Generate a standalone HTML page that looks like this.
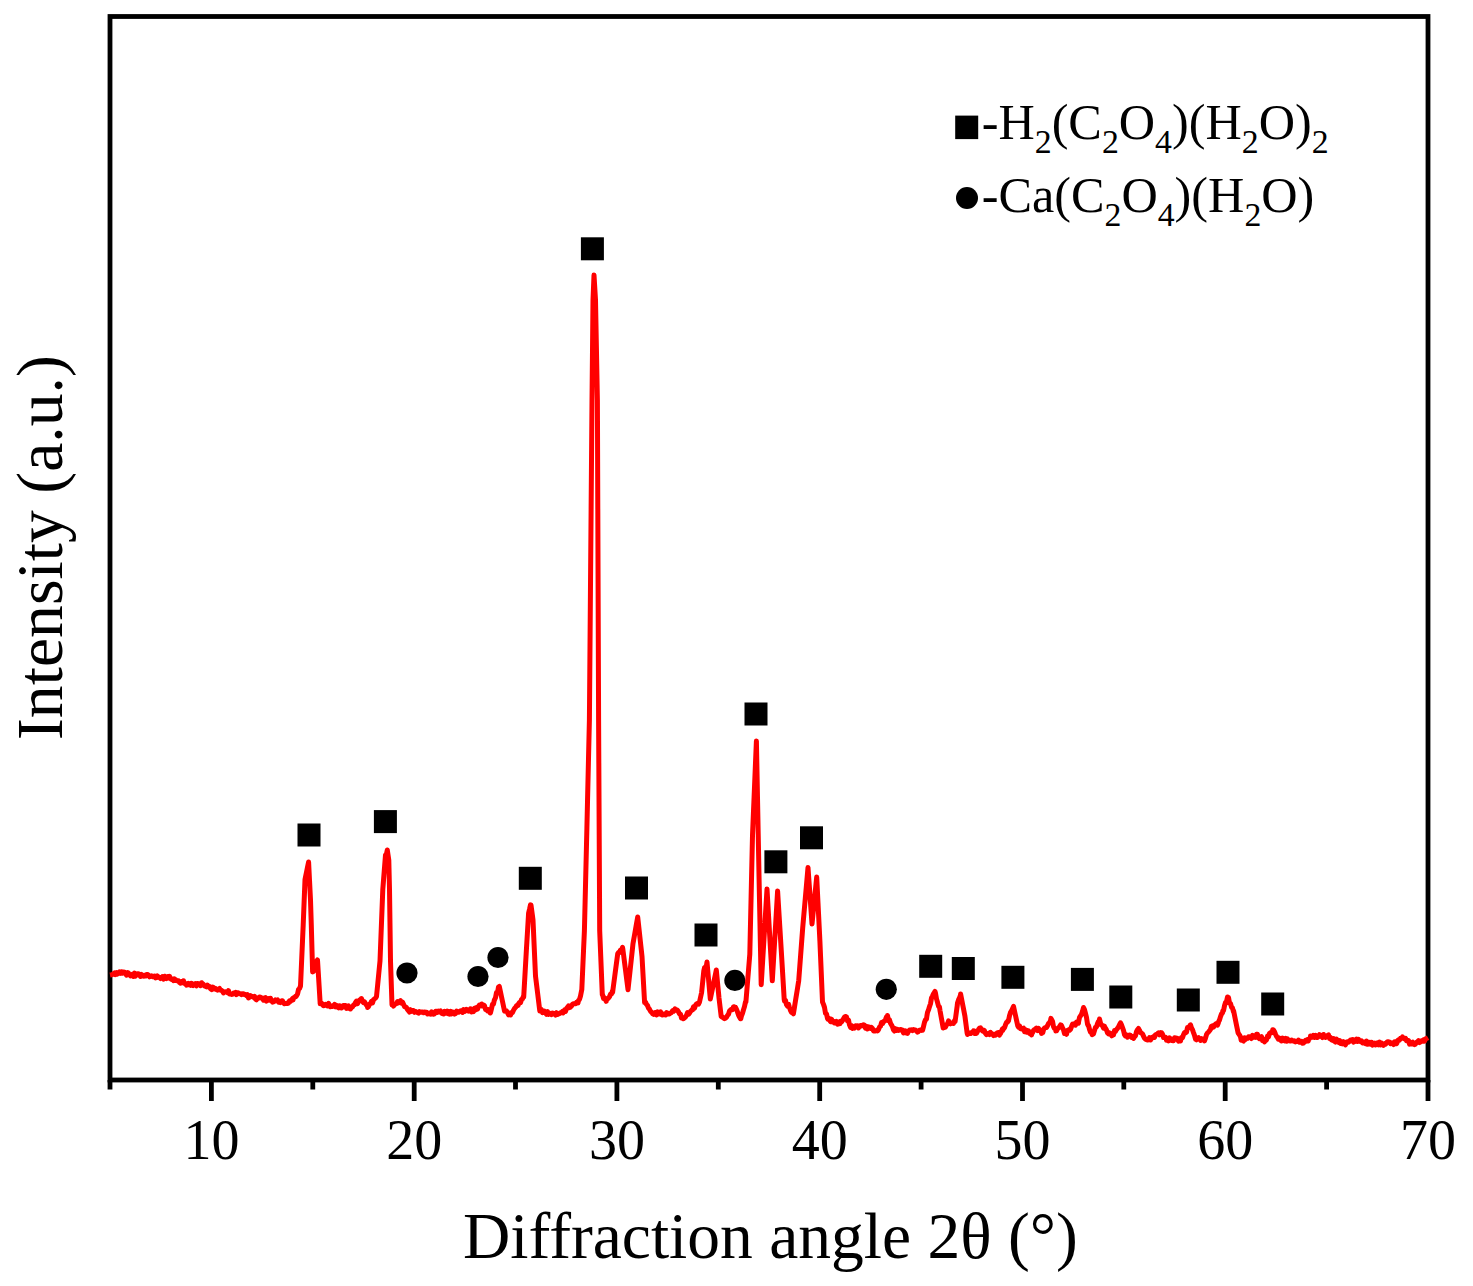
<!DOCTYPE html>
<html><head><meta charset="utf-8"><style>
html,body{margin:0;padding:0;background:#fff;}
svg{display:block;}
text{font-family:"Liberation Serif",serif;fill:#000;}
</style></head><body>
<svg width="1473" height="1286" viewBox="0 0 1473 1286">
<rect width="1473" height="1286" fill="#fff"/>
<g fill="#000">
<rect x="297.5" y="823.5" width="23" height="23"/>
<rect x="373.9" y="810.1" width="23" height="23"/>
<rect x="518.8" y="866.8" width="23" height="23"/>
<rect x="580.9" y="237.3" width="23" height="23"/>
<rect x="625.0" y="876.5" width="23" height="23"/>
<rect x="694.5" y="923.5" width="23" height="23"/>
<rect x="744.5" y="702.5" width="23" height="23"/>
<rect x="764.4" y="850.3" width="23" height="23"/>
<rect x="800.0" y="826.3" width="23" height="23"/>
<rect x="919.2" y="954.8" width="23" height="23"/>
<rect x="951.8" y="957.0" width="23" height="23"/>
<rect x="1001.4" y="965.8" width="23" height="23"/>
<rect x="1070.9" y="967.9" width="23" height="23"/>
<rect x="1109.3" y="985.5" width="23" height="23"/>
<rect x="1176.8" y="988.5" width="23" height="23"/>
<rect x="1216.5" y="960.8" width="23" height="23"/>
<rect x="1261.2" y="992.5" width="23" height="23"/>
<circle cx="407.0" cy="973.0" r="10.6"/>
<circle cx="478.0" cy="976.5" r="10.6"/>
<circle cx="498.0" cy="957.5" r="10.6"/>
<circle cx="734.9" cy="980.4" r="10.6"/>
<circle cx="886.3" cy="989.3" r="10.6"/>
</g>
<g stroke="#000" stroke-width="4.8" fill="none">
<rect x="110" y="16.5" width="1318" height="1063.5"/>
<line x1="110.0" y1="1080" x2="110.0" y2="1089.5"/>
<line x1="211.4" y1="1080" x2="211.4" y2="1101"/>
<line x1="312.8" y1="1080" x2="312.8" y2="1089.5"/>
<line x1="414.2" y1="1080" x2="414.2" y2="1101"/>
<line x1="515.5" y1="1080" x2="515.5" y2="1089.5"/>
<line x1="616.9" y1="1080" x2="616.9" y2="1101"/>
<line x1="718.3" y1="1080" x2="718.3" y2="1089.5"/>
<line x1="819.7" y1="1080" x2="819.7" y2="1101"/>
<line x1="921.1" y1="1080" x2="921.1" y2="1089.5"/>
<line x1="1022.5" y1="1080" x2="1022.5" y2="1101"/>
<line x1="1123.8" y1="1080" x2="1123.8" y2="1089.5"/>
<line x1="1225.2" y1="1080" x2="1225.2" y2="1101"/>
<line x1="1326.6" y1="1080" x2="1326.6" y2="1089.5"/>
<line x1="1428.0" y1="1080" x2="1428.0" y2="1101"/>
</g>
<path d="M110.0,975.0 L110.5,974.9 L111.5,974.8 L112.5,974.6 L113.5,973.8 L114.5,973.0 L115.5,974.7 L116.5,972.5 L117.5,974.0 L118.5,973.2 L119.5,971.9 L120.5,973.4 L121.0,973.3 L121.5,971.7 L122.5,973.2 L123.5,972.0 L124.5,972.2 L125.5,973.5 L126.5,975.1 L127.5,972.6 L128.5,973.1 L129.5,974.7 L130.5,975.9 L131.5,974.7 L132.5,974.2 L133.5,976.4 L134.5,973.1 L135.5,976.2 L136.5,974.2 L137.5,973.8 L138.5,973.8 L139.5,974.6 L140.5,976.5 L141.5,974.4 L142.5,975.9 L143.5,976.2 L144.5,975.4 L145.5,976.1 L146.0,976.0 L146.5,974.5 L147.5,974.5 L148.5,975.1 L149.5,976.9 L150.5,976.1 L151.5,975.8 L152.5,976.8 L153.5,976.5 L154.5,976.0 L155.5,977.9 L156.5,977.6 L157.5,976.0 L158.5,977.3 L159.5,977.2 L160.5,978.6 L161.5,978.1 L162.5,976.6 L163.5,979.2 L164.5,976.2 L165.5,977.3 L166.5,978.6 L167.5,976.5 L168.5,977.8 L169.5,976.3 L170.0,978.0 L170.5,978.8 L171.5,979.5 L172.5,979.1 L173.5,980.5 L174.5,978.8 L175.5,980.5 L176.0,980.0 L176.5,980.5 L177.5,980.8 L178.5,980.7 L179.5,982.4 L180.5,983.1 L181.5,981.7 L182.5,982.7 L183.5,980.8 L184.5,983.5 L185.5,983.6 L186.5,985.2 L187.5,984.9 L188.5,983.3 L189.5,984.0 L190.5,985.3 L191.5,983.3 L192.5,985.2 L193.0,985.5 L193.5,984.2 L194.5,983.9 L195.5,983.5 L196.5,985.9 L197.5,983.5 L198.5,983.8 L199.5,984.1 L200.5,985.7 L201.5,982.7 L202.5,983.9 L203.0,984.0 L203.5,984.4 L204.5,986.1 L205.5,986.3 L206.5,986.9 L207.5,985.2 L208.5,986.2 L209.5,986.4 L210.5,988.8 L211.5,989.5 L212.5,987.1 L213.5,987.6 L214.0,989.0 L214.5,988.2 L215.5,988.4 L216.5,989.5 L217.5,990.1 L218.5,989.2 L219.5,988.5 L220.5,990.2 L221.5,990.3 L222.5,991.2 L223.5,992.8 L224.5,992.1 L225.5,991.7 L226.5,992.3 L227.5,992.7 L228.5,990.7 L229.5,994.0 L230.5,993.8 L231.5,994.4 L232.5,994.3 L233.5,993.1 L234.0,993.6 L234.5,993.3 L235.5,992.5 L236.5,994.6 L237.5,992.7 L238.5,993.0 L239.5,993.7 L240.5,993.7 L241.5,994.6 L242.5,993.7 L243.5,993.7 L244.5,994.5 L245.5,994.5 L246.5,995.7 L247.5,994.7 L248.5,997.9 L249.5,997.2 L250.5,995.7 L251.5,996.3 L252.5,996.8 L253.5,997.1 L254.0,997.7 L254.5,996.4 L255.5,999.2 L256.5,999.8 L257.5,998.1 L258.5,998.3 L259.5,997.0 L260.5,997.2 L261.5,998.2 L262.5,998.1 L263.5,1000.2 L264.5,998.0 L265.5,997.6 L266.5,1001.1 L267.5,999.7 L268.0,999.7 L268.5,998.5 L269.5,1000.1 L270.5,998.3 L271.5,1000.3 L272.5,1002.1 L273.5,1001.8 L274.5,1001.3 L275.5,999.9 L276.5,1000.4 L277.5,999.8 L278.5,1002.1 L279.5,1001.4 L280.5,1002.5 L281.5,1001.0 L282.5,1000.7 L283.5,1003.0 L284.5,1003.8 L285.5,1003.4 L286.5,1003.4 L287.5,1003.6 L288.0,1002.5 L288.5,1003.1 L289.5,1000.8 L290.5,1001.3 L291.5,1000.2 L292.5,998.6 L293.0,1000.0 L293.5,997.7 L294.5,997.5 L295.5,996.3 L296.0,996.6 L296.5,995.9 L297.5,994.1 L298.5,989.6 L299.5,988.6 L300.5,986.0 L300.6,984.0 L301.5,963.6 L302.5,940.9 L303.2,925.0 L303.5,917.4 L304.5,892.1 L305.0,879.5 L305.5,877.1 L306.5,872.2 L307.5,867.3 L308.5,862.5 L308.6,862.0 L309.5,880.0 L310.5,900.0 L311.3,925.0 L311.5,932.2 L312.5,968.4 L312.6,972.0 L313.5,971.4 L314.5,966.9 L315.5,963.9 L316.5,961.5 L317.5,960.0 L318.5,976.2 L319.5,992.4 L320.2,1003.8 L320.5,1002.7 L321.5,1002.9 L322.5,1004.6 L323.5,1005.7 L324.5,1005.6 L325.5,1004.4 L326.5,1005.2 L327.5,1005.9 L328.5,1003.4 L329.5,1005.6 L330.5,1006.7 L331.5,1006.3 L332.5,1006.4 L333.5,1005.5 L333.6,1005.6 L334.5,1004.5 L335.5,1006.8 L336.5,1005.3 L337.5,1007.1 L338.5,1007.8 L339.5,1005.8 L340.5,1005.9 L341.5,1008.0 L342.5,1007.3 L343.5,1005.4 L344.5,1005.4 L345.5,1005.5 L346.5,1008.4 L347.5,1008.1 L348.5,1005.8 L349.5,1008.4 L350.5,1009.0 L351.5,1007.4 L352.5,1007.0 L353.5,1005.0 L354.5,1004.8 L355.5,1002.4 L356.5,1001.1 L357.5,1003.6 L358.5,1001.5 L359.5,1000.1 L360.5,1000.7 L361.3,998.4 L361.5,998.4 L362.5,1001.5 L363.5,1002.7 L364.5,1001.9 L365.5,1003.5 L366.5,1005.1 L367.5,1006.3 L367.6,1007.4 L368.5,1006.6 L369.5,1004.2 L370.5,1003.6 L371.5,1001.3 L372.5,1002.9 L373.5,999.7 L374.5,998.9 L375.5,998.1 L376.5,996.6 L377.5,986.4 L378.5,976.3 L379.5,966.1 L380.0,961.0 L380.5,948.2 L381.5,922.6 L382.5,897.1 L382.8,889.4 L383.5,880.5 L384.5,867.7 L385.5,855.0 L386.5,853.7 L387.3,850.0 L387.5,851.3 L388.5,858.0 L388.8,860.0 L389.5,889.0 L390.5,961.0 L391.5,990.3 L392.0,1005.0 L392.5,1004.6 L393.5,1006.0 L394.5,1004.2 L395.5,1004.0 L396.5,1003.7 L397.5,1001.5 L398.5,1002.8 L399.5,1001.5 L400.5,1000.6 L401.5,1003.1 L401.6,1002.0 L402.5,1002.0 L403.5,1004.3 L404.5,1006.5 L405.5,1007.1 L406.5,1007.6 L407.5,1009.5 L408.5,1010.9 L408.7,1011.0 L409.5,1012.1 L410.5,1009.7 L411.5,1011.4 L412.5,1010.4 L413.5,1010.5 L414.5,1012.4 L415.5,1011.5 L416.5,1011.8 L417.5,1012.6 L418.5,1013.2 L419.5,1011.6 L420.5,1012.3 L421.5,1012.0 L422.5,1012.1 L423.5,1012.8 L424.5,1012.0 L425.5,1012.3 L426.5,1012.2 L427.5,1014.0 L428.5,1013.2 L429.5,1013.9 L430.5,1014.2 L431.5,1011.8 L432.0,1012.7 L432.5,1012.9 L433.5,1014.3 L434.5,1013.9 L435.5,1011.3 L436.5,1011.3 L437.5,1012.4 L438.5,1011.1 L439.5,1011.7 L440.5,1011.0 L441.5,1013.2 L442.5,1013.6 L443.5,1014.0 L444.5,1011.3 L445.5,1013.3 L446.5,1013.1 L447.5,1011.2 L448.5,1013.8 L449.5,1014.1 L450.5,1011.4 L451.5,1014.0 L452.5,1012.0 L453.5,1012.3 L454.5,1014.1 L455.5,1013.5 L456.5,1011.1 L457.5,1012.1 L458.0,1012.3 L458.5,1012.3 L459.5,1011.5 L460.5,1010.8 L461.5,1011.1 L462.5,1012.4 L463.5,1009.7 L464.5,1011.5 L465.5,1010.9 L466.5,1009.3 L467.5,1010.2 L468.5,1011.1 L469.5,1010.6 L470.5,1008.8 L471.5,1012.0 L472.5,1011.1 L473.5,1011.6 L474.5,1008.3 L475.5,1008.8 L476.2,1009.5 L476.5,1007.5 L477.5,1009.2 L478.5,1006.4 L479.5,1004.9 L480.5,1005.0 L481.5,1005.8 L481.8,1004.0 L482.5,1005.9 L483.5,1005.0 L484.5,1005.6 L485.5,1009.5 L486.5,1009.3 L487.5,1010.8 L488.5,1009.7 L489.5,1010.7 L490.2,1013.0 L490.5,1012.7 L491.5,1008.6 L492.5,1004.2 L493.5,1004.1 L494.4,999.7 L494.5,999.9 L495.5,997.8 L496.5,992.5 L497.5,992.6 L498.5,987.0 L499.3,986.4 L499.5,987.3 L500.5,992.1 L501.5,996.8 L502.5,1001.5 L503.5,1006.2 L504.2,1009.5 L504.5,1011.1 L505.5,1010.5 L506.5,1010.9 L507.5,1012.6 L508.5,1014.8 L509.5,1013.3 L510.5,1015.0 L511.5,1012.4 L512.5,1012.5 L513.5,1010.2 L514.5,1008.5 L515.5,1007.4 L516.5,1005.7 L517.5,1005.0 L518.1,1005.3 L518.5,1004.0 L519.5,1002.5 L520.5,1002.7 L521.5,999.5 L522.5,998.8 L523.5,996.1 L523.7,997.0 L524.5,983.0 L525.5,965.5 L526.5,948.0 L527.5,931.3 L528.5,914.7 L528.6,913.0 L529.5,909.4 L530.5,904.9 L531.0,905.0 L531.5,908.8 L532.5,916.2 L533.0,920.0 L533.5,931.2 L534.5,953.6 L535.5,976.0 L536.5,984.1 L537.5,992.3 L538.5,1000.4 L539.5,1008.6 L539.8,1011.0 L540.5,1010.3 L541.5,1009.7 L542.5,1012.6 L543.5,1012.2 L544.5,1011.2 L545.5,1012.5 L546.5,1014.4 L547.5,1011.7 L548.5,1014.5 L549.0,1013.5 L549.5,1013.2 L550.5,1013.4 L551.5,1014.6 L552.5,1013.0 L553.5,1013.4 L554.5,1014.0 L555.5,1015.0 L556.5,1012.7 L557.5,1014.4 L558.5,1013.9 L559.5,1013.6 L560.5,1012.7 L561.5,1012.5 L562.5,1011.4 L563.0,1013.0 L563.5,1011.2 L564.5,1010.0 L565.5,1011.4 L566.5,1008.6 L567.5,1007.3 L568.5,1006.0 L569.5,1007.7 L570.0,1006.0 L570.5,1007.1 L571.5,1006.1 L572.5,1004.3 L573.5,1003.8 L574.5,1003.6 L575.5,1003.8 L576.5,1002.3 L577.5,1003.0 L578.0,1003.0 L578.5,1000.4 L579.5,999.4 L580.5,996.0 L581.5,990.9 L581.8,989.7 L582.5,973.8 L583.5,951.2 L584.4,930.8 L584.5,926.7 L585.5,885.6 L586.5,844.4 L586.9,828.0 L587.5,802.1 L588.5,758.9 L589.4,720.0 L589.5,707.7 L590.5,584.6 L591.5,461.5 L592.0,400.0 L592.5,350.0 L593.0,300.0 L593.5,287.5 L594.0,275.0 L594.5,283.3 L595.5,300.0 L596.5,352.6 L597.4,400.0 L597.5,426.7 L598.5,693.3 L598.6,720.0 L599.5,892.5 L599.7,930.8 L600.5,950.5 L601.5,975.2 L602.3,994.9 L602.5,994.3 L603.5,998.5 L604.5,997.8 L605.5,999.6 L606.2,1001.3 L606.5,999.1 L607.5,999.0 L608.5,998.0 L609.5,996.7 L610.5,994.2 L611.5,993.9 L612.5,990.7 L612.6,992.3 L613.5,985.5 L614.5,978.0 L615.5,970.4 L616.5,962.9 L617.5,955.3 L617.7,953.8 L618.5,952.4 L619.5,952.6 L620.5,949.9 L621.5,949.9 L622.5,947.4 L622.8,948.7 L623.5,954.2 L624.5,962.1 L625.5,970.0 L626.5,977.9 L627.5,985.8 L628.0,989.7 L628.5,985.1 L629.5,975.9 L630.5,966.7 L631.5,957.4 L632.5,948.2 L633.0,943.6 L633.5,940.8 L634.5,935.1 L635.5,929.5 L636.5,923.8 L637.5,918.1 L637.7,917.0 L638.5,924.3 L639.5,933.5 L640.5,942.7 L641.5,951.8 L642.0,956.4 L642.5,965.3 L643.5,983.1 L644.5,1000.8 L644.6,1002.6 L645.5,1002.1 L646.5,1004.4 L647.5,1005.5 L648.5,1008.1 L649.5,1009.2 L650.5,1011.3 L651.5,1012.3 L652.3,1012.8 L652.5,1013.6 L653.5,1014.3 L654.5,1012.6 L655.5,1012.4 L656.5,1014.9 L657.5,1011.9 L658.5,1014.1 L659.5,1013.9 L660.5,1011.8 L661.5,1014.7 L662.5,1015.0 L663.5,1014.1 L664.5,1014.6 L665.5,1015.0 L666.5,1012.6 L667.5,1014.1 L667.7,1014.0 L668.5,1013.4 L669.5,1013.9 L670.5,1013.1 L671.5,1012.5 L672.5,1010.9 L673.5,1011.3 L674.5,1009.8 L674.9,1008.9 L675.5,1010.3 L676.5,1009.8 L677.5,1010.3 L678.5,1011.9 L679.5,1013.9 L680.5,1014.2 L681.5,1018.0 L682.5,1018.2 L683.1,1018.7 L683.5,1018.8 L684.5,1017.8 L685.5,1017.0 L686.5,1015.3 L687.5,1012.5 L688.5,1014.4 L689.5,1013.2 L690.5,1011.3 L691.5,1010.4 L691.8,1010.0 L692.5,1009.9 L693.5,1006.7 L694.5,1008.2 L695.5,1005.4 L696.5,1003.8 L697.5,1003.5 L698.5,1004.1 L699.4,1002.4 L699.5,1002.0 L700.5,997.5 L701.5,993.0 L701.6,992.6 L702.5,983.7 L703.5,973.8 L703.8,970.8 L704.5,967.8 L705.5,967.0 L706.5,965.1 L707.0,962.0 L707.5,967.6 L708.5,978.9 L709.5,990.1 L710.3,999.1 L710.5,998.1 L711.5,993.3 L712.5,988.4 L713.5,983.6 L714.5,978.7 L715.5,973.9 L716.3,970.0 L716.5,972.1 L717.5,982.4 L718.5,992.8 L719.0,998.0 L719.5,1002.2 L720.5,1010.6 L721.2,1016.5 L721.5,1016.7 L722.5,1016.9 L723.5,1018.0 L724.5,1018.7 L725.5,1018.1 L726.5,1017.2 L727.5,1015.4 L728.5,1014.3 L729.5,1011.0 L730.5,1010.0 L731.5,1009.2 L732.5,1009.7 L733.5,1006.9 L734.2,1006.7 L734.5,1007.5 L735.5,1007.3 L736.5,1009.3 L737.5,1011.9 L738.5,1015.1 L739.5,1017.0 L740.5,1018.8 L740.8,1018.7 L741.5,1015.7 L742.5,1013.2 L743.5,1009.7 L744.5,1006.5 L745.5,1001.9 L745.9,1002.0 L746.5,994.7 L747.5,982.4 L748.5,970.2 L749.5,958.0 L749.8,954.3 L750.5,923.5 L751.5,879.4 L752.5,835.4 L753.5,811.2 L754.5,787.0 L755.5,762.8 L756.4,741.0 L756.5,746.2 L757.5,797.7 L758.5,849.2 L759.0,875.0 L759.5,899.9 L760.5,949.8 L761.2,984.7 L761.5,979.8 L762.5,963.3 L763.5,946.8 L764.5,930.3 L765.5,913.8 L766.5,897.3 L767.0,889.0 L767.5,897.7 L768.5,915.0 L769.5,932.3 L770.5,949.6 L771.5,966.9 L772.3,980.8 L772.5,977.4 L773.5,960.5 L774.5,943.5 L775.5,926.6 L776.5,909.6 L777.5,892.7 L777.6,891.0 L778.5,905.6 L779.5,921.8 L780.5,938.1 L781.5,954.3 L782.5,971.0 L783.5,987.6 L784.2,999.3 L784.5,1001.2 L785.5,1000.3 L786.5,1004.6 L787.5,1006.1 L788.5,1004.3 L789.5,1007.5 L790.5,1010.4 L791.5,1012.5 L792.5,1012.2 L793.4,1013.8 L793.5,1013.2 L794.5,1007.0 L795.5,1000.7 L796.5,994.5 L797.5,988.3 L798.5,982.0 L798.7,980.8 L799.5,970.2 L800.5,957.0 L801.5,943.8 L802.5,930.5 L802.7,927.9 L803.5,918.8 L804.5,907.4 L805.5,896.0 L806.5,884.6 L807.5,873.2 L808.0,867.5 L808.5,874.6 L809.5,888.7 L810.5,902.8 L811.5,916.9 L812.0,924.0 L812.5,919.0 L813.5,909.0 L814.5,899.0 L815.5,889.0 L816.5,879.0 L816.7,877.0 L817.5,893.0 L818.5,913.1 L819.5,933.1 L819.9,941.1 L820.5,955.2 L821.5,978.6 L822.5,1002.0 L823.5,1004.4 L824.5,1007.4 L825.5,1013.3 L826.5,1013.9 L827.5,1018.4 L827.8,1019.1 L828.5,1018.1 L829.5,1019.8 L830.5,1021.7 L831.5,1019.2 L832.5,1022.0 L833.5,1021.3 L834.5,1023.0 L835.5,1022.7 L836.5,1021.4 L837.5,1024.2 L838.5,1023.1 L839.5,1021.8 L840.0,1023.7 L840.5,1021.3 L841.5,1021.9 L842.5,1020.6 L843.5,1018.8 L844.5,1017.1 L845.5,1016.6 L846.0,1016.6 L846.5,1017.0 L847.5,1021.0 L848.5,1020.1 L849.5,1024.9 L850.5,1027.3 L850.9,1026.9 L851.5,1025.5 L852.5,1028.3 L853.5,1027.4 L854.5,1028.0 L855.5,1025.7 L856.5,1025.9 L857.5,1025.8 L858.5,1027.9 L859.5,1026.3 L860.5,1025.4 L861.5,1025.6 L861.7,1025.8 L862.5,1025.2 L863.5,1024.7 L864.5,1025.2 L865.5,1028.1 L866.5,1026.4 L867.5,1029.0 L868.5,1026.9 L869.5,1027.2 L870.5,1028.4 L871.5,1027.5 L872.5,1028.5 L873.5,1030.9 L874.5,1030.9 L875.5,1030.9 L876.5,1030.6 L876.9,1030.2 L877.5,1030.9 L878.5,1029.7 L879.5,1027.0 L880.5,1026.3 L881.5,1022.6 L882.5,1023.7 L883.5,1021.4 L884.5,1021.2 L885.5,1019.5 L886.5,1016.9 L887.3,1016.6 L887.5,1015.4 L888.5,1020.7 L889.5,1019.9 L890.5,1023.2 L891.5,1024.9 L892.5,1026.8 L893.2,1029.0 L893.5,1029.9 L894.5,1031.0 L895.5,1028.7 L896.5,1030.3 L897.5,1029.3 L898.5,1030.4 L899.5,1030.1 L900.5,1029.5 L901.5,1029.7 L902.5,1030.1 L903.5,1032.9 L904.5,1031.6 L905.2,1031.8 L905.5,1030.8 L906.5,1033.1 L907.5,1033.4 L908.5,1031.3 L909.5,1030.1 L910.5,1030.2 L911.5,1029.7 L912.5,1030.6 L913.5,1029.6 L914.5,1030.0 L915.5,1030.0 L916.5,1031.0 L917.5,1032.1 L918.5,1031.5 L919.5,1030.2 L920.5,1030.1 L921.5,1030.4 L922.5,1029.8 L922.6,1030.2 L923.5,1026.6 L924.5,1022.3 L925.5,1019.8 L926.5,1019.0 L926.9,1016.0 L927.5,1012.4 L928.5,1009.9 L929.5,1006.6 L930.5,1003.7 L931.2,999.7 L931.5,998.0 L932.5,996.1 L933.5,993.8 L934.5,992.2 L935.0,991.5 L935.5,993.2 L936.5,998.9 L937.5,1002.3 L938.5,1006.2 L939.5,1007.0 L940.0,1010.6 L940.5,1013.3 L941.5,1018.8 L942.5,1024.2 L943.2,1028.0 L943.5,1026.0 L944.5,1027.5 L945.5,1027.1 L946.5,1024.6 L947.5,1024.0 L948.5,1020.9 L948.6,1022.6 L949.5,1022.1 L950.5,1023.8 L951.5,1023.3 L952.5,1023.2 L953.5,1023.5 L954.5,1020.7 L955.1,1021.5 L955.5,1018.5 L956.5,1011.1 L957.3,1005.2 L957.5,1003.1 L958.5,999.9 L959.5,997.8 L960.5,995.0 L960.6,994.0 L961.5,998.6 L962.5,1003.7 L963.5,1008.8 L964.5,1014.0 L964.9,1016.0 L965.5,1020.6 L966.5,1028.3 L967.1,1032.9 L967.5,1034.5 L968.5,1033.6 L969.5,1033.3 L970.5,1033.6 L971.5,1032.4 L972.5,1032.7 L973.5,1030.8 L974.5,1033.4 L975.5,1031.4 L975.8,1032.3 L976.5,1033.3 L977.5,1031.5 L978.5,1029.5 L979.5,1028.1 L980.5,1027.8 L980.7,1028.5 L981.5,1029.8 L982.5,1031.0 L983.5,1030.0 L984.5,1030.8 L985.5,1033.5 L986.5,1034.7 L986.6,1034.5 L987.5,1034.0 L988.5,1033.3 L989.5,1034.6 L990.5,1032.4 L991.5,1033.4 L992.5,1033.9 L993.5,1035.6 L994.5,1034.4 L995.5,1035.2 L996.5,1033.6 L997.5,1032.7 L998.5,1032.6 L999.5,1035.1 L1000.0,1033.4 L1000.5,1033.6 L1001.5,1031.0 L1002.5,1028.8 L1002.6,1030.4 L1003.5,1028.8 L1004.5,1027.6 L1005.5,1024.8 L1006.5,1022.4 L1007.5,1022.1 L1008.0,1020.6 L1008.5,1020.8 L1009.5,1015.7 L1010.5,1012.5 L1011.5,1011.0 L1012.5,1008.7 L1013.5,1006.4 L1014.5,1011.0 L1015.5,1015.5 L1016.5,1020.1 L1017.5,1024.6 L1017.8,1026.0 L1018.5,1027.1 L1019.5,1025.9 L1020.5,1028.6 L1021.5,1029.0 L1022.5,1028.7 L1023.5,1028.2 L1024.5,1031.6 L1025.4,1030.4 L1025.5,1029.8 L1026.5,1032.1 L1027.5,1030.5 L1028.5,1030.9 L1029.5,1033.4 L1030.5,1032.2 L1031.5,1035.0 L1031.9,1033.6 L1032.5,1032.8 L1033.5,1030.5 L1034.5,1029.4 L1035.5,1028.9 L1036.3,1028.2 L1036.5,1028.9 L1037.5,1030.6 L1038.5,1028.4 L1039.5,1030.0 L1040.5,1030.0 L1041.5,1033.4 L1042.5,1031.1 L1042.8,1032.6 L1043.5,1029.8 L1044.5,1028.0 L1045.5,1027.5 L1046.5,1027.5 L1047.5,1025.7 L1048.5,1023.4 L1049.5,1022.6 L1050.5,1020.7 L1050.9,1018.4 L1051.5,1019.3 L1052.5,1021.3 L1053.5,1026.6 L1054.5,1028.5 L1055.5,1028.4 L1055.8,1030.9 L1056.5,1030.8 L1057.5,1028.8 L1058.5,1027.7 L1059.5,1026.6 L1060.5,1025.0 L1060.7,1026.0 L1061.5,1025.5 L1062.5,1028.0 L1063.5,1029.8 L1064.5,1033.5 L1065.5,1032.1 L1065.6,1033.6 L1066.5,1034.3 L1067.5,1030.4 L1068.5,1029.8 L1069.5,1030.3 L1070.5,1029.2 L1071.5,1026.7 L1072.5,1024.2 L1073.2,1025.0 L1073.5,1024.7 L1074.5,1023.7 L1075.5,1025.1 L1076.5,1021.9 L1077.5,1021.9 L1078.5,1023.2 L1078.6,1021.7 L1079.5,1017.4 L1080.5,1015.9 L1081.5,1014.4 L1082.5,1011.4 L1083.5,1007.5 L1084.5,1009.6 L1085.5,1013.4 L1086.5,1017.3 L1087.5,1024.1 L1088.4,1026.0 L1088.5,1025.4 L1089.5,1029.4 L1090.5,1032.2 L1091.5,1032.5 L1092.2,1034.7 L1092.5,1033.3 L1093.5,1033.8 L1094.5,1030.6 L1095.5,1027.3 L1096.5,1026.9 L1097.5,1023.5 L1098.5,1021.4 L1099.3,1020.6 L1099.5,1019.1 L1100.5,1023.2 L1101.5,1025.2 L1102.5,1025.6 L1103.5,1028.1 L1104.5,1026.2 L1104.7,1028.2 L1105.5,1028.1 L1106.5,1030.0 L1107.5,1032.8 L1108.5,1033.9 L1109.5,1032.9 L1110.5,1033.5 L1111.5,1035.2 L1111.8,1035.8 L1112.5,1034.7 L1113.5,1034.8 L1114.5,1030.6 L1115.5,1031.4 L1116.5,1029.6 L1117.5,1028.4 L1118.5,1026.8 L1119.5,1024.7 L1120.5,1022.8 L1121.5,1024.9 L1122.5,1027.6 L1123.5,1030.4 L1124.5,1034.6 L1125.3,1035.8 L1125.5,1034.3 L1126.5,1035.0 L1127.5,1037.2 L1128.5,1035.6 L1129.5,1035.1 L1130.5,1035.2 L1131.5,1037.3 L1132.5,1036.7 L1133.0,1037.4 L1133.5,1038.4 L1134.5,1036.7 L1135.5,1035.7 L1136.5,1031.7 L1137.5,1029.7 L1138.5,1028.4 L1138.9,1029.3 L1139.5,1030.2 L1140.5,1032.5 L1141.5,1033.1 L1142.5,1033.9 L1143.5,1036.1 L1144.5,1038.3 L1144.9,1038.5 L1145.5,1039.2 L1146.5,1039.6 L1147.5,1040.1 L1148.5,1039.5 L1149.5,1037.7 L1150.0,1039.1 L1150.5,1040.0 L1151.5,1037.5 L1152.5,1037.8 L1153.5,1036.6 L1154.5,1037.3 L1155.5,1034.7 L1156.5,1034.3 L1157.5,1033.7 L1158.5,1032.8 L1159.5,1034.8 L1160.5,1033.1 L1160.9,1032.6 L1161.5,1032.7 L1162.5,1034.2 L1163.5,1037.5 L1164.5,1037.0 L1165.5,1037.2 L1166.3,1039.1 L1166.5,1040.2 L1167.5,1039.7 L1168.5,1040.9 L1169.5,1037.8 L1170.5,1039.2 L1171.5,1040.4 L1172.5,1040.5 L1173.5,1040.8 L1174.5,1037.7 L1175.5,1038.7 L1176.5,1038.1 L1177.5,1038.4 L1178.5,1041.2 L1179.5,1039.9 L1180.4,1039.6 L1180.5,1041.0 L1181.5,1037.5 L1182.5,1037.8 L1183.5,1034.8 L1184.5,1032.6 L1185.5,1033.0 L1186.5,1032.1 L1187.5,1027.6 L1188.5,1027.9 L1189.5,1026.5 L1190.2,1025.0 L1190.5,1024.8 L1191.5,1027.9 L1192.5,1029.7 L1193.5,1032.6 L1194.5,1035.3 L1195.5,1039.2 L1195.6,1039.1 L1196.5,1039.8 L1197.5,1038.3 L1198.5,1037.7 L1199.5,1039.0 L1200.5,1040.4 L1201.5,1038.7 L1202.5,1039.3 L1203.5,1039.0 L1204.3,1040.2 L1204.5,1040.9 L1205.5,1038.2 L1206.5,1034.6 L1207.5,1032.9 L1208.5,1032.1 L1209.5,1030.8 L1210.5,1029.3 L1210.8,1028.2 L1211.5,1026.2 L1212.5,1025.8 L1213.5,1027.0 L1214.5,1025.2 L1215.5,1024.1 L1216.5,1023.5 L1217.5,1025.1 L1218.4,1022.8 L1218.5,1021.9 L1219.5,1020.0 L1220.5,1016.6 L1221.5,1014.0 L1222.5,1012.9 L1222.8,1010.8 L1223.5,1010.7 L1224.5,1005.7 L1225.5,1002.4 L1226.5,1001.6 L1227.5,997.0 L1227.7,997.5 L1228.5,997.5 L1229.5,1003.0 L1230.5,1003.5 L1231.5,1007.2 L1232.5,1008.0 L1233.5,1012.0 L1233.6,1010.8 L1234.5,1015.3 L1235.5,1020.2 L1236.5,1025.2 L1237.5,1030.1 L1238.0,1032.6 L1238.5,1033.6 L1239.5,1034.9 L1240.5,1036.8 L1241.2,1040.2 L1241.5,1040.3 L1242.5,1040.3 L1243.5,1041.0 L1244.5,1037.7 L1245.5,1039.3 L1246.5,1038.1 L1247.5,1038.3 L1248.5,1036.7 L1249.5,1036.8 L1250.5,1037.4 L1251.5,1038.5 L1252.5,1035.3 L1253.5,1036.4 L1254.5,1037.2 L1255.5,1037.4 L1256.5,1034.4 L1257.0,1035.3 L1257.5,1034.3 L1258.5,1037.9 L1259.5,1038.7 L1260.5,1037.6 L1261.5,1036.7 L1262.5,1040.5 L1263.5,1039.2 L1264.5,1041.8 L1265.1,1040.7 L1265.5,1040.6 L1266.5,1039.9 L1267.5,1036.0 L1268.5,1036.9 L1269.5,1033.4 L1270.5,1032.6 L1271.5,1032.8 L1272.5,1031.3 L1272.7,1029.8 L1273.5,1030.0 L1274.5,1031.8 L1275.5,1034.2 L1276.5,1036.3 L1277.5,1037.5 L1278.2,1039.1 L1278.5,1037.8 L1279.5,1038.3 L1280.5,1040.2 L1281.5,1040.9 L1282.5,1038.0 L1283.5,1040.0 L1284.5,1040.8 L1285.5,1038.3 L1286.5,1041.3 L1287.5,1038.9 L1288.5,1040.7 L1289.5,1040.7 L1290.5,1041.1 L1291.2,1040.7 L1291.5,1040.0 L1292.5,1040.6 L1293.5,1041.3 L1294.5,1040.9 L1295.5,1041.9 L1296.5,1041.3 L1297.5,1041.4 L1298.5,1040.1 L1299.5,1042.3 L1300.5,1042.0 L1301.5,1041.3 L1302.1,1042.3 L1302.5,1043.2 L1303.5,1043.0 L1304.5,1041.6 L1305.5,1040.4 L1306.5,1041.2 L1307.5,1039.7 L1308.3,1040.9 L1308.5,1039.2 L1309.5,1038.7 L1310.4,1037.4 L1310.5,1035.9 L1311.5,1037.1 L1312.5,1037.2 L1313.5,1035.4 L1314.5,1037.4 L1315.5,1035.3 L1316.5,1037.5 L1317.5,1037.5 L1318.5,1036.5 L1319.5,1034.7 L1320.5,1036.2 L1321.5,1035.6 L1322.5,1037.6 L1323.5,1034.5 L1324.5,1037.0 L1325.5,1037.4 L1326.5,1036.3 L1327.5,1036.5 L1327.7,1035.3 L1328.5,1034.8 L1329.5,1038.4 L1330.5,1037.4 L1331.5,1039.8 L1332.5,1040.4 L1333.5,1038.5 L1333.8,1039.9 L1334.5,1041.2 L1335.5,1042.0 L1336.5,1039.2 L1337.5,1040.6 L1338.5,1042.3 L1339.5,1040.5 L1340.5,1043.5 L1341.5,1041.6 L1342.5,1043.8 L1343.5,1041.7 L1344.5,1043.3 L1345.0,1043.5 L1345.5,1044.8 L1346.5,1041.9 L1347.5,1041.8 L1348.5,1042.3 L1349.5,1041.3 L1350.5,1039.9 L1351.5,1040.1 L1352.5,1039.6 L1353.5,1042.1 L1354.5,1040.8 L1355.2,1039.9 L1355.5,1041.4 L1356.5,1039.0 L1357.5,1041.5 L1358.5,1039.3 L1359.5,1041.1 L1360.5,1041.7 L1361.5,1041.0 L1362.5,1043.0 L1363.3,1041.9 L1363.5,1042.1 L1364.5,1042.4 L1365.5,1043.6 L1366.5,1041.0 L1367.5,1044.3 L1368.5,1043.2 L1369.5,1042.5 L1370.5,1044.1 L1371.5,1042.3 L1372.5,1045.1 L1373.5,1043.8 L1374.5,1043.2 L1375.5,1044.8 L1376.5,1043.8 L1376.6,1044.0 L1377.5,1042.8 L1378.5,1044.8 L1379.5,1042.2 L1380.5,1045.0 L1381.5,1042.9 L1382.5,1044.2 L1383.5,1045.4 L1384.5,1043.9 L1385.5,1044.2 L1386.5,1042.8 L1387.5,1041.7 L1388.5,1041.7 L1389.5,1042.1 L1390.5,1043.7 L1391.5,1043.0 L1392.5,1043.3 L1393.5,1044.6 L1394.5,1041.8 L1395.5,1042.1 L1396.5,1043.6 L1396.9,1043.0 L1397.5,1040.7 L1398.5,1039.7 L1399.5,1040.1 L1400.5,1038.3 L1401.5,1038.3 L1402.5,1036.9 L1403.0,1037.4 L1403.5,1038.1 L1404.5,1038.9 L1405.5,1038.3 L1406.5,1040.7 L1407.5,1040.9 L1408.5,1040.5 L1409.5,1044.2 L1410.5,1042.5 L1411.2,1044.0 L1411.5,1042.7 L1412.5,1042.2 L1413.5,1044.0 L1414.5,1044.6 L1415.5,1044.0 L1416.5,1042.4 L1417.5,1041.7 L1418.5,1040.6 L1419.5,1042.6 L1420.3,1041.9 L1420.5,1042.0 L1421.5,1040.7 L1422.5,1041.2 L1423.5,1039.9 L1424.5,1041.1 L1425.5,1039.0 L1426.5,1038.4 L1427.5,1037.9 L1428.0,1037.6" fill="none" stroke="#ff0000" stroke-width="5" stroke-linejoin="round" stroke-linecap="butt"/>
<g font-size="56" text-anchor="middle">
<text x="211.4" y="1159">10</text>
<text x="414.2" y="1159">20</text>
<text x="616.9" y="1159">30</text>
<text x="819.7" y="1159">40</text>
<text x="1022.5" y="1159">50</text>
<text x="1225.2" y="1159">60</text>
<text x="1428.0" y="1159">70</text>
</g>
<text x="463" y="1257.5" font-size="65.5">Diffraction angle 2θ (°)</text>
<text transform="translate(61.6,740) rotate(-90)" font-size="65.7">Intensity (a.u.)</text>
<rect x="955.2" y="115.6" width="23" height="23.5" fill="#000"/>
<circle cx="967" cy="198" r="11" fill="#000"/>
<text x="981.7" y="139.3" font-size="50.25">-H<tspan font-size="33.8" dy="14">2</tspan><tspan dy="-14">(C</tspan><tspan font-size="33.8" dy="14">2</tspan><tspan dy="-14">O</tspan><tspan font-size="33.8" dy="14">4</tspan><tspan dy="-14">)(H</tspan><tspan font-size="33.8" dy="14">2</tspan><tspan dy="-14">O)</tspan><tspan font-size="33.8" dy="14">2</tspan></text>
<text x="981.7" y="211.7" font-size="50.25">-Ca(C<tspan font-size="33.8" dy="14">2</tspan><tspan dy="-14">O</tspan><tspan font-size="33.8" dy="14">4</tspan><tspan dy="-14">)(H</tspan><tspan font-size="33.8" dy="14">2</tspan><tspan dy="-14">O)</tspan></text>
</svg>
</body></html>
